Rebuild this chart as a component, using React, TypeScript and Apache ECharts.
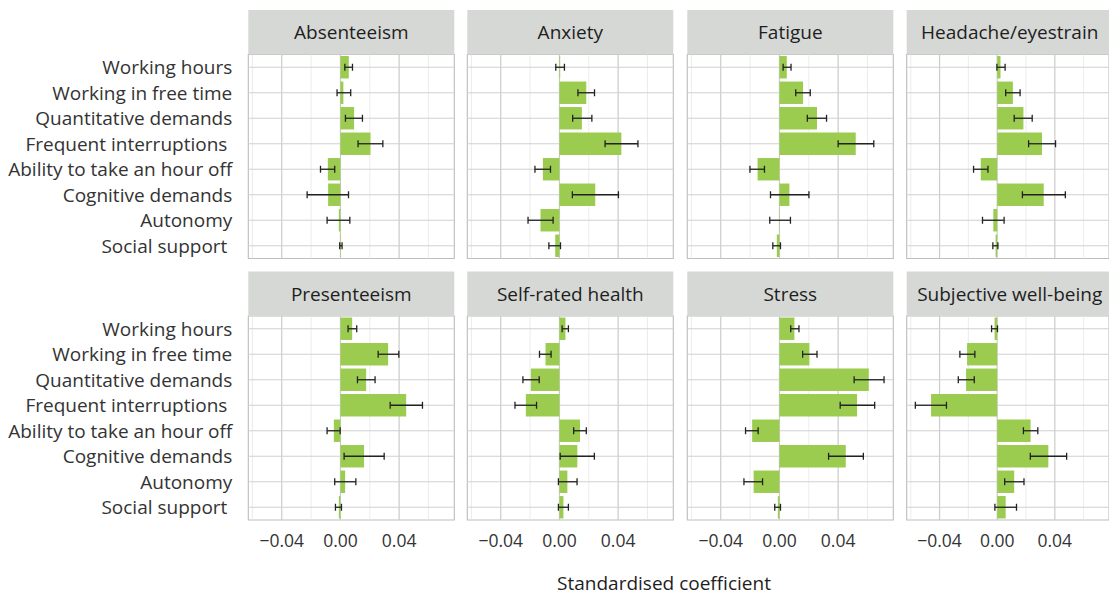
import React, { useEffect, useRef } from "react";
import * as echarts from "echarts";

// ---- Data ----
const categories = [
  "Working hours",
  "Working in free time",
  "Quantitative demands",
  "Frequent interruptions ",
  "Ability to take an hour off",
  "Cognitive demands",
  "Autonomy",
  "Social support ",
];

const outcomes = [
  "Absenteeism",
  "Anxiety",
  "Fatigue",
  "Headache/eyestrain",
  "Presenteeism",
  "Self-rated health",
  "Stress",
  "Subjective well-being",
];

const absenteeismEst = [0.0057, 0.002, 0.0093, 0.0205, -0.0086, -0.0084, -0.0011, 0.0003];
const absenteeismLo = [0.003, -0.0023, 0.0034, 0.012, -0.0136, -0.0227, -0.0091, -0.0005];
const absenteeismHi = [0.0082, 0.007, 0.015, 0.0289, -0.0039, 0.0055, 0.0064, 0.0011];

const anxietyEst = [0.0005, 0.0183, 0.0153, 0.0422, -0.0113, 0.0244, -0.0129, -0.0029];
const anxietyLo = [-0.0025, 0.0126, 0.009, 0.0311, -0.0167, 0.0088, -0.0214, -0.0072];
const anxietyHi = [0.0034, 0.0239, 0.0221, 0.0535, -0.0061, 0.0402, -0.0043, 0.0007];

const fatigueEst = [0.005, 0.0161, 0.0256, 0.052, -0.0149, 0.0068, 0.0002, -0.0018];
const fatigueLo = [0.0025, 0.0111, 0.019, 0.04, -0.0201, -0.0061, -0.0066, -0.0045];
const fatigueHi = [0.0079, 0.021, 0.0321, 0.0643, -0.0102, 0.0201, 0.0075, 0.0007];

const headacheEst = [0.0023, 0.0109, 0.0182, 0.0311, -0.0114, 0.0323, -0.0027, -0.0011];
const headacheLo = [-0.0002, 0.0059, 0.0118, 0.0218, -0.0164, 0.0175, -0.0102, -0.003];
const headacheHi = [0.0055, 0.0159, 0.0243, 0.0405, -0.0064, 0.0473, 0.0048, 0.0005];

const presenteeismEst = [0.008, 0.0325, 0.0175, 0.0448, -0.0045, 0.0161, 0.0032, -0.0011];
const presenteeismLo = [0.0052, 0.0257, 0.0116, 0.0339, -0.0091, 0.0025, -0.0039, -0.0034];
const presenteeismHi = [0.0111, 0.0398, 0.0236, 0.0559, -0.0002, 0.0298, 0.0105, 0.0007];

const selfRatedEst = [0.0041, -0.0095, -0.0195, -0.0229, 0.014, 0.0122, 0.0054, 0.0027];
const selfRatedLo = [0.0018, -0.0136, -0.0249, -0.0303, 0.0097, 0.0005, -0.0007, -0.0007];
const selfRatedHi = [0.0061, -0.0057, -0.0138, -0.0156, 0.0183, 0.0238, 0.012, 0.0061];

const stressEst = [0.0102, 0.0204, 0.0609, 0.0529, -0.0186, 0.0452, -0.0176, -0.0011];
const stressLo = [0.0077, 0.0158, 0.0509, 0.0414, -0.0231, 0.0335, -0.0242, -0.0032];
const stressHi = [0.0133, 0.0256, 0.0713, 0.0649, -0.0145, 0.0572, -0.0115, 0.0007];

const wellbeingEst = [-0.0018, -0.0209, -0.0216, -0.0459, 0.0232, 0.0355, 0.0118, 0.0059];
const wellbeingLo = [-0.0039, -0.0259, -0.027, -0.0568, 0.0182, 0.023, 0.0052, -0.0016];
const wellbeingHi = [0.0002, -0.0155, -0.0159, -0.0352, 0.0282, 0.0482, 0.0186, 0.0134];

const estimates = [absenteeismEst, anxietyEst, fatigueEst, headacheEst, presenteeismEst, selfRatedEst, stressEst, wellbeingEst];
const lowers = [absenteeismLo, anxietyLo, fatigueLo, headacheLo, presenteeismLo, selfRatedLo, stressLo, wellbeingLo];
const uppers = [absenteeismHi, anxietyHi, fatigueHi, headacheHi, presenteeismHi, selfRatedHi, stressHi, wellbeingHi];

const xTicks = [-0.04, 0, 0.04];
const xMinorGrid = [-0.06, -0.02, 0.02, 0.06];
const xMin = -0.0628;
const xMax = 0.0776;
const xTitle = "Standardised coefficient";

const FONT = "'Open Sans', 'Source Sans Pro', sans-serif";

function fmtTick(v: number) {
  if (Math.abs(v) < 1e-9) return "0.00";
  return (v < 0 ? "\u2212" : "") + Math.abs(v).toFixed(2);
}

export default function App() {
  const ref = useRef<HTMLDivElement>(null);

  useEffect(() => {
    const chart = echarts.init(ref.current!, null, { renderer: "svg" });

    const colLeft = [248.3, 467.3, 687.3, 906.7];
    const panelW = 206;
    const stripTop = [10, 271.5];
    const stripH = 44.5;
    const panelH = 204;

    const grids: any[] = [];
    const xAxes: any[] = [];
    const yAxes: any[] = [];
    const series: any[] = [];
    const graphics: any[] = [];

    outcomes.forEach((name, i) => {
      const col = i % 4;
      const row = Math.floor(i / 4);
      const left = colLeft[col];
      const top = stripTop[row] + stripH;

      grids.push({
        left,
        top,
        width: panelW,
        height: panelH,
        show: true,
        borderColor: "#bdbdbd",
        borderWidth: 1.1,
        backgroundColor: "#ffffff",
      });

      xAxes.push({
        type: "value",
        gridIndex: i,
        min: xMin,
        max: xMax,
        axisLine: { show: false },
        axisTick: { show: false },
        splitLine: { show: false },
        axisLabel: {
          show: row === 1,
          customValues: xTicks,
          formatter: (v: number) => fmtTick(v),
          fontSize: 17.5,
          color: "#333333",
          fontFamily: FONT,
          margin: 11,
        },
      });

      yAxes.push({
        type: "category",
        gridIndex: i,
        data: categories,
        inverse: true,
        axisLine: { show: false },
        axisTick: { show: false },
        splitLine: { show: false },
        axisLabel: {
          show: col === 0,
          interval: 0,
          fontSize: 19,
          color: "#333333",
          fontFamily: FONT,
          margin: 16,
        },
      });

      const gridData = [
        ...xMinorGrid.map((v) => [v, 0, 0]),
        ...xTicks.map((v) => [v, 0, 1]),
        ...categories.map((_, k) => [0, k, 2]),
      ];

      series.push({
        type: "custom",
        xAxisIndex: i,
        yAxisIndex: i,
        z: 1,
        silent: true,
        data: gridData,
        encode: { x: 0, y: 1 },
        renderItem: (params: any, api: any) => {
          const cs = params.coordSys;
          const kind = api.value(2);
          if (kind === 2) {
            const y = api.coord([0, api.value(1)])[1];
            return {
              type: "line",
              shape: { x1: cs.x, y1: y, x2: cs.x + cs.width, y2: y },
              style: { stroke: "#d0d0d0", lineWidth: 1.2 },
            };
          }
          const x = api.coord([api.value(0), 0])[0];
          return {
            type: "line",
            shape: { x1: x, y1: cs.y, x2: x, y2: cs.y + cs.height },
            style: {
              stroke: kind === 1 ? "#cbcbcb" : "#e4e4e4",
              lineWidth: kind === 1 ? 1.2 : 0.7,
            },
          };
        },
      });

      series.push({
        type: "bar",
        name,
        xAxisIndex: i,
        yAxisIndex: i,
        z: 2,
        silent: true,
        data: estimates[i],
        barWidth: "88%",
        itemStyle: { color: "#9bcc50" },
      });

      series.push({
        type: "custom",
        xAxisIndex: i,
        yAxisIndex: i,
        z: 3,
        silent: true,
        data: lowers[i].map((lo, k) => [lo, uppers[i][k], k]),
        encode: { x: [0, 1], y: 2 },
        renderItem: (_params: any, api: any) => {
          const k = api.value(2);
          const p1 = api.coord([api.value(0), k]);
          const p2 = api.coord([api.value(1), k]);
          const h = 3.5;
          const st = { stroke: "#222222", lineWidth: 1.3 };
          return {
            type: "group",
            children: [
              { type: "line", shape: { x1: p1[0], y1: p1[1], x2: p2[0], y2: p2[1] }, style: st },
              { type: "line", shape: { x1: p1[0], y1: p1[1] - h, x2: p1[0], y2: p1[1] + h }, style: st },
              { type: "line", shape: { x1: p2[0], y1: p2[1] - h, x2: p2[0], y2: p2[1] + h }, style: st },
            ],
          };
        },
      });

      graphics.push({
        type: "rect",
        silent: true,
        shape: { x: left, y: stripTop[row], width: panelW, height: stripH },
        style: { fill: "#d6d8d5" },
      });
      graphics.push({
        type: "text",
        silent: true,
        x: left + panelW / 2,
        y: stripTop[row] + stripH / 2,
        style: {
          text: name,
          fill: "#1e1e1e",
          fontSize: 19,
          fontFamily: FONT,
          align: "center",
          verticalAlign: "middle",
        },
      });
    });

    graphics.push({
      type: "text",
      silent: true,
      x: 664,
      y: 583,
      style: {
        text: xTitle,
        fill: "#1e1e1e",
        fontSize: 19,
        lineHeight: 20,
        fontFamily: FONT,
        align: "center",
        verticalAlign: "middle",
      },
    });

    chart.setOption({
      animation: false,
      backgroundColor: "#ffffff",
      grid: grids,
      xAxis: xAxes,
      yAxis: yAxes,
      series,
      graphic: graphics,
    });

    return () => chart.dispose();
  }, []);

  return (
    <div
      ref={ref}
      style={{ position: "absolute", left: 0, top: 0, width: 1109, height: 595 }}
    />
  );
}
